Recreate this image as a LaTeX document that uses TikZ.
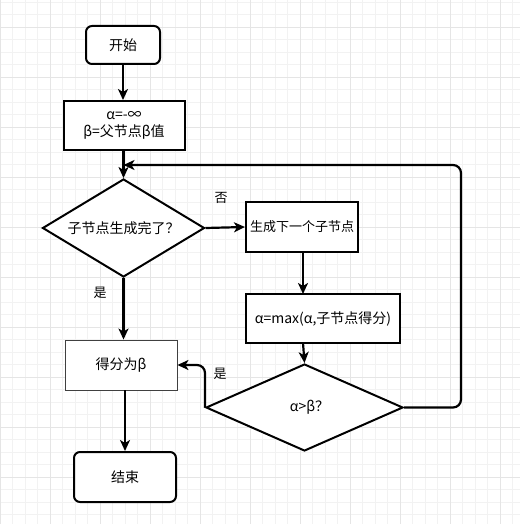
\documentclass[tikz,border=0pt]{standalone}
\usepackage{fontspec}
\setmainfont{Noto Sans CJK SC}
\usetikzlibrary{shapes.geometric,arrows.meta}
\begin{document}
\begin{tikzpicture}[x=1pt,y=-1pt,
  every node/.style={font=\fontsize{14}{17}\selectfont},
  shp/.style={draw=black,line width=2pt,fill=white,inner sep=0pt,align=center},
  boxr/.style={shp,rectangle,rounded corners=6pt},
  boxs/.style={shp,rectangle},
  boxthin/.style={draw=black!75,line width=0.9pt,fill=white,rectangle,inner sep=0pt,align=center},
  dia/.style={shp,diamond,aspect=1.65},
  arr/.style={line width=2.2pt,-{Stealth[length=11pt,width=10pt,inset=3pt]}},
  lbl/.style={inner sep=0pt,font=\fontsize{13}{16}\selectfont}
]
\useasboundingbox (0,0) rectangle (520,524);
% grid
\foreach \i in {0,...,42} {\draw[black!5,line width=0.8pt] (\i*12.5,0) -- (\i*12.5,524);}
\foreach \i in {0,...,42} {\draw[black!5,line width=0.8pt] (0,2+\i*12.5) -- (520,2+\i*12.5);}
\foreach \i in {0,...,10} {\draw[black!10,line width=0.8pt] (\i*50,0) -- (\i*50,524);}
\foreach \i in {0,...,10} {\draw[black!10,line width=0.8pt] (0,27+\i*50) -- (520,27+\i*50);}

\node[boxr,minimum width=74pt,minimum height=38pt] (start) at (123,45) {开始};
\node[boxs,minimum width=121pt,minimum height=49pt] (init) at (124,125.5) {\raisebox{-2pt}{α=-∞}\\[-1pt]\raisebox{-3pt}{β=父节点β值}};
\node[dia,minimum width=162pt,minimum height=98pt] (d1) at (123.5,228) {子节点生成完了？};
\node[boxs,minimum width=112pt,minimum height=50pt,font=\fontsize{13}{16}\selectfont] (gen) at (302,227) {生成下一个子节点};
\node[boxs,minimum width=154pt,minimum height=49pt] (mx) at (323,318.5) {α=max(α,子节点得分)};
\node[dia,minimum width=197pt,minimum height=87pt] (d2) at (304.5,407.5) {\hspace*{10pt}α>β？};
\node[boxthin,minimum width=112pt,minimum height=50pt] (score) at (121,365) {得分为β};
\node[boxr,minimum width=102pt,minimum height=50pt] (end) at (125,477) {结束};

\coordinate (lpA) at (461,407.5);
\coordinate (lpB) at (461,165);
\coordinate (lpC) at (123.5,165);
\coordinate (ysA) at (205,365);

\draw[arr] (start.south) -- (start.south |- init.north);
\draw[arr] (init.south -| d1.north) -- (d1.north);
\draw[arr,rounded corners=8pt] (d2.east) -- (lpA) -- (lpB) -- (lpC);
\draw[arr] (d1.east) -- (gen.west);
\node[lbl] (no) at (221,198) {否};
\draw[arr] (303,252) -- (303,294);
\draw[arr] (303,343) -- (d2.north);
\draw[arr,rounded corners=8pt] (d2.west) -- (ysA) -- (score.east);
\node[lbl] (yes2) at (220,374) {是};
\draw[arr] (d1.south) -- (d1.south |- score.north);
\node[lbl] (yes1) at (100,293) {是};
\draw[arr] (score.south -| end.north) -- (end.north);
\end{tikzpicture}
\end{document}
